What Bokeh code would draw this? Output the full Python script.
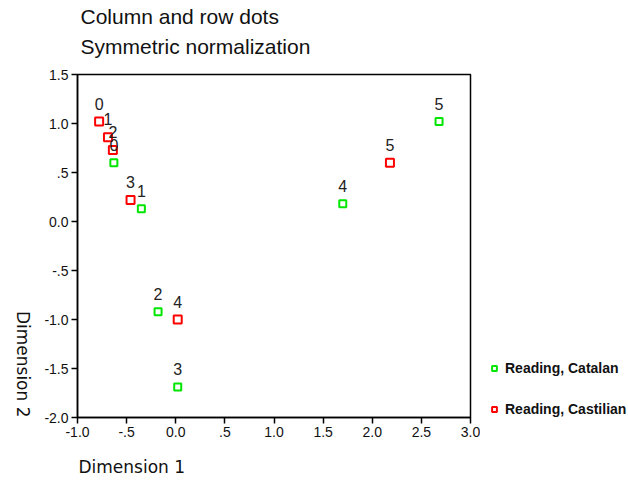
from bokeh.plotting import figure
from bokeh.models import (Range1d, FixedTicker, ColumnDataSource, Title, Legend, LegendItem)
from bokeh.layouts import row
from bokeh.core.properties import value
from bokeh.embed import file_html
from bokeh.resources import INLINE
import math

# data
categories = ["0", "1", "2", "3", "4", "5"]
catalan_x = [-0.63, -0.35, -0.18, 0.02, 1.70, 2.68]
catalan_y = [0.60, 0.13, -0.92, -1.69, 0.18, 1.02]
castilian_x = [-0.78, -0.69, -0.64, -0.46, 0.02, 2.18]
castilian_y = [1.02, 0.86, 0.73, 0.22, -1.00, 0.60]
x_ticks = [-1.0, -0.5, 0.0, 0.5, 1.0, 1.5, 2.0, 2.5, 3.0]
x_tick_labels = ["-1.0", "-.5", "0.0", ".5", "1.0", "1.5", "2.0", "2.5", "3.0"]
y_ticks = [-2.0, -1.5, -1.0, -0.5, 0.0, 0.5, 1.0, 1.5]
y_tick_labels = ["-2.0", "-1.5", "-1.0", "-.5", "0.0", ".5", "1.0", "1.5"]
series_names = ["Reading, Catalan", "Reading, Castilian"]
title_lines = ["Column and row dots", "Symmetric normalization"]
axis_titles = ["Dimension 1", "Dimension 2"]

FONT = "Liberation Sans"
GREEN = "#00e600"
RED = "#ff0000"

p = figure(width=480, height=492, output_backend="svg", toolbar_location=None,
           x_range=Range1d(-1, 3), y_range=Range1d(-2, 1.5),
           min_border_left=77, min_border_right=10, min_border_top=74, min_border_bottom=75)
p.title.visible = False
p.grid.visible = False
p.background_fill_color = "white"
p.border_fill_color = "white"
p.outline_line_color = "black"
p.outline_line_width = 1.5

for ax, ticks, labels in ((p.xaxis[0], x_ticks, x_tick_labels), (p.yaxis[0], y_ticks, y_tick_labels)):
    ax.ticker = FixedTicker(ticks=ticks)
    ax.major_label_overrides = {t: l for t, l in zip(ticks, labels)}
    ax.minor_tick_line_color = None
    ax.major_tick_out = 6
    ax.major_tick_in = 0
    ax.major_tick_line_color = "black"
    ax.major_tick_line_width = 1.5
    ax.axis_line_color = "black"
    ax.axis_line_width = 1.5
    ax.major_label_text_font = FONT
    ax.major_label_text_font_size = "14px"
    ax.major_label_text_color = "#111111"
    ax.axis_label_text_font = "DejaVu Sans"
    ax.axis_label_text_font_size = "17px"
    ax.axis_label_text_font_style = "normal"
    ax.axis_label_text_color = "#111111"
p.xaxis[0].major_label_standoff = 3
p.yaxis[0].major_label_standoff = 3
p.yaxis[0].major_label_orientation = "horizontal"

p.yaxis[0].axis_label = axis_titles[1]
p.yaxis[0].axis_label_align = "start"
p.yaxis[0].axis_label_orientation = -math.pi / 2
p.yaxis[0].axis_label_standoff = 18

src_cat = ColumnDataSource(dict(x=catalan_x, y=catalan_y, t=categories))
src_cas = ColumnDataSource(dict(x=castilian_x, y=castilian_y, t=categories))

p.scatter("x", "y", source=src_cat, marker="square", size=7, fill_color="white",
          line_color=GREEN, line_width=2)
p.scatter("x", "y", source=src_cas, marker="square", size=8, fill_color="white",
          line_color=RED, line_width=2)

for src in (src_cat, src_cas):
    p.text("x", "y", text="t", source=src, text_font=value(FONT), text_font_size="16px",
           text_color="#222222", text_align="center", text_baseline="middle", y_offset=-18)

# titles (first added is closest to the frame)
title_style = dict(align="left", offset=3, text_font=FONT, text_font_size="21px",
                   text_font_style="normal", text_color="#111111")
t2 = Title(text=title_lines[1], standoff=34, **title_style)
t1 = Title(text=title_lines[0], standoff=0, **title_style)
try:
    t1.standoff = -24
except Exception:
    t2.standoff = 23
    t1.standoff = 0
p.add_layout(t2, "above")
p.add_layout(t1, "above")

# x axis title, left aligned under the axis
p.add_layout(Title(text=axis_titles[0], align="left", offset=1, standoff=30,
                   text_font="DejaVu Sans", text_font_size="17px", text_font_style="normal",
                   text_color="#111111"), "below")

# legend panel to the right of the plot
lg = figure(width=148, height=492, output_backend="svg", toolbar_location=None,
            x_axis_type=None, y_axis_type=None, x_range=Range1d(10, 11), y_range=Range1d(10, 11),
            min_border_left=0, min_border_right=0, min_border_top=0, min_border_bottom=0)
lg.title.visible = False
lg.outline_line_color = None
lg.border_fill_color = "white"
lg.background_fill_color = "white"
k_cat = lg.scatter(catalan_x, catalan_y, marker="square", size=7, fill_color="white",
                   line_color=GREEN, line_width=2)
k_cas = lg.scatter(castilian_x, castilian_y, marker="square", size=8, fill_color="white",
                   line_color=RED, line_width=2)
legend = Legend(items=[LegendItem(label=series_names[0], renderers=[k_cat]),
                       LegendItem(label=series_names[1], renderers=[k_cas])],
                location=(8, -1), orientation="vertical",
                glyph_width=12, glyph_height=18, label_height=18, spacing=23,
                padding=0, margin=0, label_standoff=5,
                label_text_font=FONT, label_text_font_size="14px", label_text_font_style="bold",
                label_text_color="#111111",
                border_line_color=None, background_fill_alpha=0)
lg.add_layout(legend, "center")

layout = row(p, lg)
open("out.html", "w").write(file_html(layout, INLINE))
